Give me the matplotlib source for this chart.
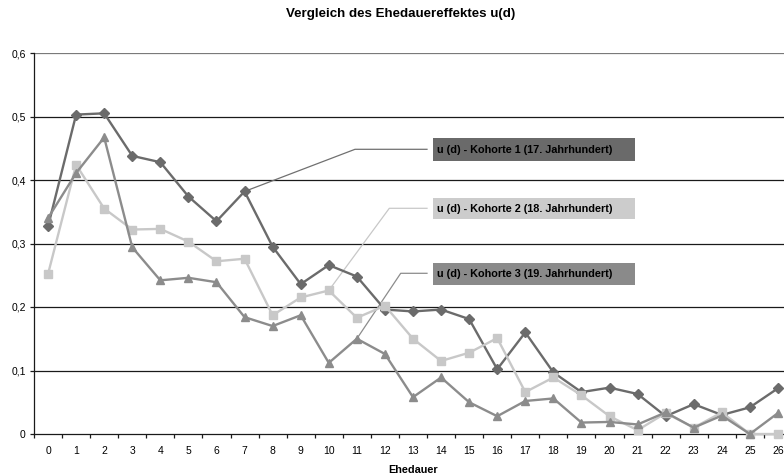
import matplotlib
matplotlib.use("Agg")
import matplotlib.pyplot as plt
from matplotlib.patches import Rectangle

plt.rcParams['font.family'] = ['Liberation Sans', 'DejaVu Sans']

ehedauer = list(range(27))
kohorte1 = [0.327, 0.503, 0.505, 0.438, 0.428, 0.374, 0.335, 0.382, 0.295, 0.236,
            0.266, 0.248, 0.196, 0.193, 0.196, 0.181, 0.102, 0.160, 0.097, 0.066,
            0.073, 0.063, 0.028, 0.047, 0.030, 0.042, 0.072]
kohorte2 = [0.252, 0.424, 0.355, 0.322, 0.323, 0.303, 0.272, 0.276, 0.187, 0.215,
            0.226, 0.183, 0.202, 0.150, 0.115, 0.128, 0.151, 0.066, 0.089, 0.061,
            0.028, 0.006, 0.033, 0.010, 0.034, 0.000, 0.000]
kohorte3 = [0.340, 0.411, 0.467, 0.294, 0.242, 0.246, 0.239, 0.184, 0.170, 0.187,
            0.112, 0.150, 0.126, 0.058, 0.089, 0.050, 0.028, 0.052, 0.056, 0.018,
            0.019, 0.015, 0.034, 0.010, 0.029, 0.000, 0.033]
labels = ["u (d) - Kohorte 1 (17. Jahrhundert)",
          "u (d) - Kohorte 2 (18. Jahrhundert)",
          "u (d) - Kohorte 3 (19. Jahrhundert)"]
yticks = [0, 0.1, 0.2, 0.3, 0.4, 0.5, 0.6]
ytick_labels = ["0", "0,1", "0,2", "0,3", "0,4", "0,5", "0,6"]

W, H = 784, 474
fig = plt.figure(figsize=(W / 100, H / 100), dpi=100)
L, R, B, T = 34, 792, 434, 53
ax = fig.add_axes([L / W, (H - B) / H, (R - L) / W, (B - T) / H])
ax.set_xlim(-0.5, 26.5)
ax.set_ylim(0, 0.6)

colors = ["#6b6b6b", "#c8c8c8", "#8c8c8c"]
markers = ["D", "s", "^"]
msizes = [5, 5.5, 5.5]
series = [kohorte1, kohorte2, kohorte3]
for vals, c, m, ms in zip(series, colors, markers, msizes):
    ax.plot(ehedauer, vals, color=c, lw=1.7, marker=m, ms=ms, mec=c, mfc=c, zorder=3,
            clip_on=False)

# gridlines
for yv in yticks[1:-1]:
    ax.axhline(yv, color="#1a1a1a", lw=0.9, zorder=1)
ax.axhline(0.6, color="#7a7a7a", lw=0.9, zorder=1)

for s in ["top", "right"]:
    ax.spines[s].set_visible(False)
for s in ["left", "bottom"]:
    ax.spines[s].set_color("#1a1a1a")
    ax.spines[s].set_linewidth(0.9)

ax.set_yticks(yticks)
ax.set_yticklabels(ytick_labels, fontsize=7.5)
ax.set_xticks(ehedauer)
ax.set_xticklabels([str(v) for v in ehedauer], fontsize=7.5)
ax.set_xticks([v - 0.5 for v in range(28)], minor=True)
ax.tick_params(axis="x", which="major", length=0, pad=9)
ax.tick_params(axis="x", which="minor", length=3, width=0.9, direction="out", color="#1a1a1a")
ax.tick_params(axis="y", length=3, width=0.9, direction="out", color="#1a1a1a", pad=3)
ax.set_xlabel("Ehedauer", fontsize=7.8, fontweight="bold", labelpad=6)

fig.text(401 / W, 1 - 14.5 / H, "Vergleich des Ehedauereffektes u(d)", ha="center", va="center",
         fontsize=9.6, fontweight="bold")

def px2ax(px, py):
    return ((px - L) / (R - L), (B - py) / (B - T))

to_axes = ax.transData + ax.transAxes.inverted()
lead_pts = [(7, kohorte1[7]), (10, kohorte2[10]), (11, kohorte3[11])]
elbows = [(355, 149.3), (389.3, 208.3), (400.7, 273.3)]
box_y = [(138.3, 160.7), (197.7, 219.3), (262.7, 285.0)]
box_fill = ["#6a6a6a", "#cccccc", "#8a8a8a"]
lead_cols = ["#707070", "#c8c8c8", "#8c8c8c"]
for (dx, dy), (ex, ey), (by0, by1), bf, lc, lab in zip(lead_pts, elbows, box_y, box_fill, lead_cols, labels):
    sx, sy = to_axes.transform((dx, dy))
    e = px2ax(ex, ey)
    h = px2ax(427, ey)
    ax.plot([sx, e[0], h[0]], [sy, e[1], h[1]], transform=ax.transAxes, color=lc, lw=0.9, zorder=2,
            clip_on=False)
    x0, y0 = px2ax(433, by1)
    x1, y1 = px2ax(635, by0)
    ax.add_patch(Rectangle((x0, y0), x1 - x0, y1 - y0, transform=ax.transAxes, facecolor=bf,
                           edgecolor="none", zorder=4, clip_on=False))
    tx, ty = px2ax(437, (by0 + by1) / 2)
    ax.text(tx, ty, lab, transform=ax.transAxes, fontsize=7.8, fontweight="bold", ha="left",
            va="center", zorder=5, color="black")

fig.savefig("out.png", dpi=100)
